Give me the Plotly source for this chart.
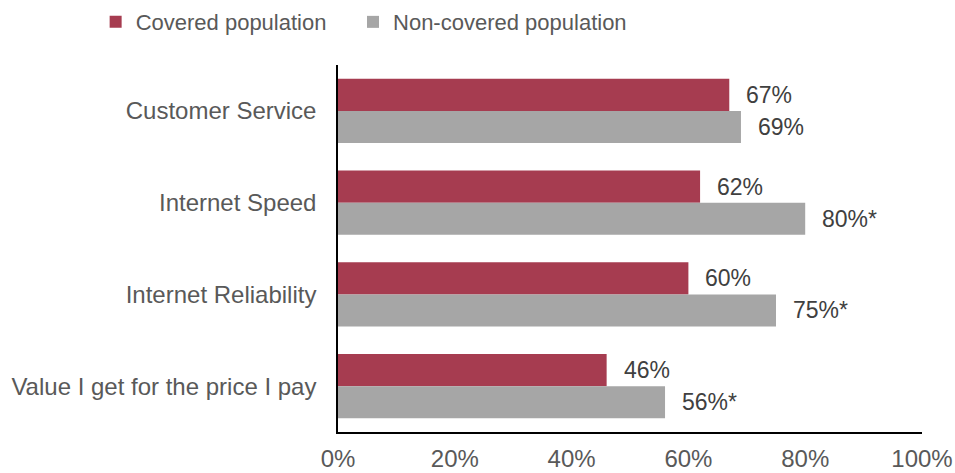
import plotly.graph_objects as go

categories = ["Customer Service", "Internet Speed", "Internet Reliability", "Value I get for the price I pay"]
covered = [67, 62, 60, 46]
non_covered = [69, 80, 75, 56]
covered_labels = ["67%", "62%", "60%", "46%"]
non_covered_labels = ["69%", "80%*", "75%*", "56%*"]
x_ticks = [0, 20, 40, 60, 80, 100]
x_tick_labels = ["0%", "20%", "40%", "60%", "80%", "100%"]

RED = "#A63C50"
GRAY = "#A6A6A6"
TXT = "#595959"
FONT = "Liberation Sans, Arial, sans-serif"

fig = go.Figure()
fig.add_trace(go.Bar(y=categories, x=covered, orientation="h", name="Covered population",
                     marker=dict(color=RED, line=dict(width=0)), legend="legend"))
fig.add_trace(go.Bar(y=categories, x=non_covered, orientation="h", name="Non-covered population",
                     marker=dict(color=GRAY, line=dict(width=0)), legend="legend2"))

for cat, v, lab in zip(categories, covered, covered_labels):
    fig.add_annotation(x=v, y=cat, text=lab, showarrow=False, xanchor="left", xshift=15, yshift=16,
                       font=dict(size=23, color="#404040", family=FONT))
for cat, v, lab in zip(categories, non_covered, non_covered_labels):
    fig.add_annotation(x=v, y=cat, text=lab, showarrow=False, xanchor="left", xshift=15, yshift=-16,
                       font=dict(size=23, color="#404040", family=FONT))

leg_common = dict(orientation="h", yanchor="middle", xanchor="left", y=1.117,
                  font=dict(size=22, color=TXT, family=FONT), itemwidth=30, itemclick=False,
                  bgcolor="rgba(0,0,0,0)")

fig.update_layout(
    width=955, height=473,
    margin=dict(l=338, r=33, t=65, b=41, autoexpand=False),
    barmode="group", bargap=0.30, bargroupgap=0,
    paper_bgcolor="white", plot_bgcolor="white",
    font=dict(family=FONT, size=24, color=TXT),
    showlegend=True,
    legend=dict(x=-0.415, **leg_common),
    legend2=dict(x=0.0257, **leg_common),
    xaxis=dict(range=[0, 100], tickvals=x_ticks, ticktext=x_tick_labels, showgrid=False,
               zeroline=False, showline=True, linecolor="#000000", linewidth=1.5,
               ticks="", ticklabelstandoff=4, tickfont=dict(size=24, color=TXT)),
    yaxis=dict(autorange="reversed", showgrid=False, zeroline=False, showline=True,
               linecolor="#000000", linewidth=1.5, ticks="", ticklabelstandoff=15,
               tickfont=dict(size=24, color=TXT)),
)

fig.write_html("out.html", config={"displayModeBar": False},
               post_script="document.body.style.margin='0';document.body.style.padding='0';")
